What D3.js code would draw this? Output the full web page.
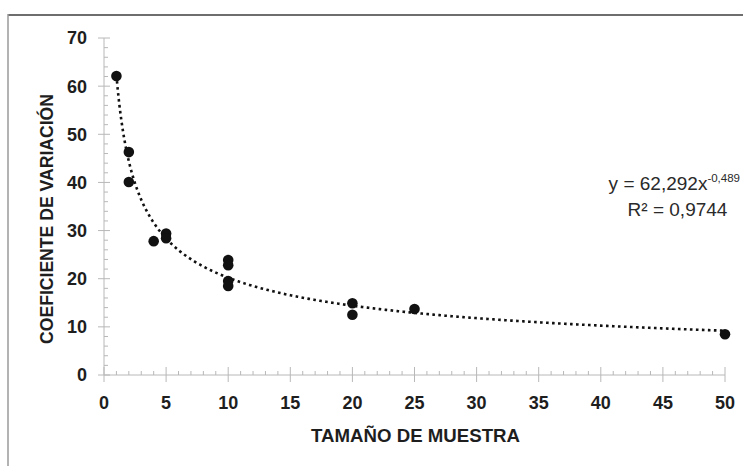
<!DOCTYPE html>
<html>
<head>
<meta charset="utf-8">
<script src="https://cdn.jsdelivr.net/npm/d3@7"></script>
<style>
html,body{margin:0;padding:0;background:#fff;}
svg{display:block;}
text{font-family:"Liberation Sans",Arial,sans-serif;}
</style>
</head>
<body>
<svg id="chart" width="743" height="466"></svg>
<script>
// Data
const sampleSize = [1, 2, 2, 4, 5, 5, 10, 10, 10, 10, 20, 20, 25, 50];
const coefVar    = [62.1, 46.3, 40.1, 27.8, 29.4, 28.4, 23.9, 22.8, 19.5, 18.5, 14.9, 12.5, 13.7, 8.45];
const xTicks = [0, 5, 10, 15, 20, 25, 30, 35, 40, 45, 50];
const yTicks = [0, 10, 20, 30, 40, 50, 60, 70];
// Power trendline shown on the chart: y = a * x^b
const trendCoef = [62.292, -0.489];
const trendRange = [1, 50];
const eqText = ["y = 62,292x", "-0,489"];
const r2Text = ["R² = 0,9744"];
const xTitle = "TAMAÑO DE MUESTRA";
const yTitle = "COEFICIENTE DE VARIACIÓN";

const svg = d3.select("#chart");
const x = d3.scaleLinear().domain([0, 50]).range([104, 725]);
const y = d3.scaleLinear().domain([0, 70]).range([375, 38]);

// frame
svg.append("line").attr("x1", 8).attr("x2", 743).attr("y1", 15).attr("y2", 15)
  .attr("stroke", "#6e6e6e").attr("stroke-width", 2);
svg.append("line").attr("x1", 8).attr("x2", 8).attr("y1", 14).attr("y2", 466)
  .attr("stroke", "#9a9a9a").attr("stroke-width", 1.5);

const axisColor = "#b8b8b8";
// minor ticks
const yMinor = d3.range(0, 71, 2).filter(v => v % 10 !== 0);
const xMinor = d3.range(0, 51, 1).filter(v => v % 5 !== 0);

const gy = svg.append("g");
gy.append("line").attr("x1", x(0)).attr("x2", x(0)).attr("y1", y(70)).attr("y2", y(0))
  .attr("stroke", axisColor).attr("stroke-width", 1);
gy.selectAll(".ymin").data(yMinor).enter().append("line")
  .attr("x1", x(0)).attr("x2", x(0) + 4).attr("y1", d => y(d)).attr("y2", d => y(d))
  .attr("stroke", axisColor).attr("stroke-width", 1);
gy.selectAll(".ymaj").data(yTicks).enter().append("line")
  .attr("x1", x(0) - 6).attr("x2", x(0) + 6).attr("y1", d => y(d)).attr("y2", d => y(d))
  .attr("stroke", axisColor).attr("stroke-width", 1);
gy.selectAll(".ylab").data(yTicks).enter().append("text")
  .attr("x", 87).attr("y", d => y(d)).attr("dy", "0.36em")
  .attr("text-anchor", "end").attr("font-size", 18).attr("font-weight", "bold")
  .attr("fill", "#1e1e1e").text(d => d);

const gx = svg.append("g");
gx.append("line").attr("x1", x(0)).attr("x2", x(50)).attr("y1", y(0)).attr("y2", y(0))
  .attr("stroke", axisColor).attr("stroke-width", 1);
gx.selectAll(".xmin").data(xMinor).enter().append("line")
  .attr("x1", d => x(d)).attr("x2", d => x(d)).attr("y1", y(0) - 4).attr("y2", y(0))
  .attr("stroke", axisColor).attr("stroke-width", 1);
gx.selectAll(".xmaj").data(xTicks).enter().append("line")
  .attr("x1", d => x(d)).attr("x2", d => x(d)).attr("y1", y(0) - 8).attr("y2", y(0) + 7)
  .attr("stroke", axisColor).attr("stroke-width", 1);
gx.selectAll(".xlab").data(xTicks).enter().append("text")
  .attr("x", d => x(d)).attr("y", 409)
  .attr("text-anchor", "middle").attr("font-size", 18).attr("font-weight", "bold")
  .attr("fill", "#1e1e1e").text(d => d);

// axis titles
svg.append("text").attr("x", 415.5).attr("y", 442).attr("text-anchor", "middle")
  .attr("font-size", 19).attr("font-weight", "bold").attr("fill", "#1e1e1e")
  .attr("textLength", 209).attr("lengthAdjust", "spacingAndGlyphs").text(xTitle);
svg.append("text").attr("transform", "translate(53,219) rotate(-90)")
  .attr("text-anchor", "middle").attr("font-size", 19).attr("font-weight", "bold")
  .attr("fill", "#1e1e1e").attr("textLength", 250).attr("lengthAdjust", "spacingAndGlyphs")
  .text(yTitle);

// trendline
const trendX = d3.range(trendRange[0], trendRange[1] + 0.001, 0.1);
const line = d3.line().x(d => x(d)).y(d => y(trendCoef[0] * Math.pow(d, trendCoef[1])))
  .curve(d3.curveLinear);
svg.append("path").datum(trendX).attr("d", line).attr("fill", "none")
  .attr("stroke", "#111").attr("stroke-width", 2.6).attr("stroke-dasharray", "2.6,3.4");

// points
svg.selectAll(".pt").data(sampleSize.map((s, i) => [s, coefVar[i]])).enter().append("circle")
  .attr("cx", d => x(d[0])).attr("cy", d => y(d[1])).attr("r", 5.3).attr("fill", "#111");

// equation
const eq = svg.append("text").attr("x", 740).attr("y", 190).attr("text-anchor", "end")
  .attr("font-size", 19).attr("fill", "#2a2a2a");
eq.append("tspan").text(eqText[0]);
eq.append("tspan").attr("dy", -8).attr("font-size", 11.5).text(eqText[1]);
svg.append("text").attr("x", 677.5).attr("y", 216).attr("text-anchor", "middle")
  .attr("font-size", 19).attr("fill", "#2a2a2a").text(r2Text[0]);
</script>
</body>
</html>
